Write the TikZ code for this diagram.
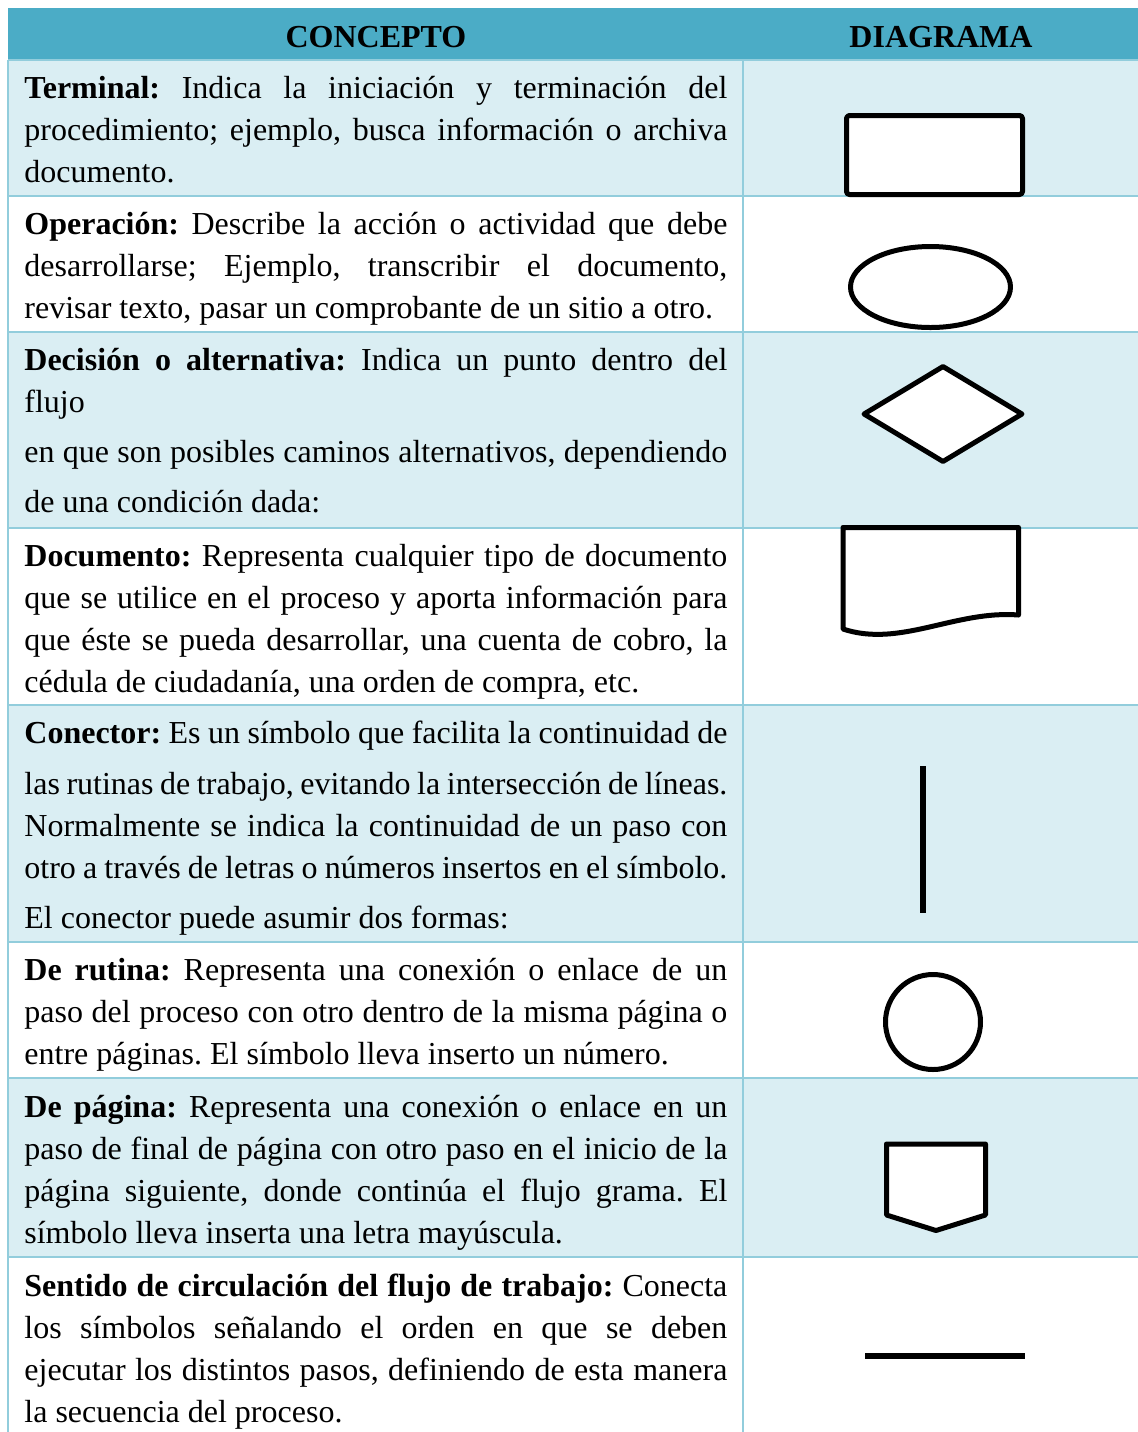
\documentclass[tikz,border=0pt]{standalone}
\usepackage{fontspec}
\setmainfont{Liberation Serif}
\usetikzlibrary{shapes.geometric}
\definecolor{headblue}{HTML}{4BACC6}
\definecolor{rowblue}{HTML}{DAEEF3}
\definecolor{gridblue}{HTML}{92CDDC}
\newlength\conceptw
\setlength\conceptw{351.5pt}
\newcommand\jline[1]{\makebox[\conceptw][s]{#1}}
\tikzset{
  concept/.style={anchor=base west, inner sep=0pt, text width=\conceptw, align=left, font=\fontsize{16}{21}\selectfont,
    execute at begin node={\frenchspacing\spaceskip=0pt\xspaceskip=0pt}},
  heading/.style={anchor=base, inner sep=0pt, font=\fontsize{16}{21}\selectfont\bfseries},
  symbol/.style={draw, line width=2.5pt, fill=white, inner sep=0pt, line join=round},
  gridline/.style={gridblue, line width=1pt}
}
\begin{document}
\begin{tikzpicture}[x=0.5pt, y=-0.5pt]
                \useasboundingbox (0,0) rectangle (1138,1432);
                \fill[headblue] (8,8) rectangle (1138,60);
                \foreach \ya/\yb/\rowc in {60/196/rowblue, 196/332/white, 332/528/rowblue, 528/705/white, 705/942/rowblue, 942/1078/white, 1078/1257/rowblue, 1257/1432/white}
                  \fill[\rowc] (8,\ya) rectangle (1138,\yb);
                \foreach \yy in {60,196,332,528,705,942,1078,1257}
                  \draw[gridline] (8,\yy) -- (1138,\yy);
                \draw[gridline] (8,60) -- (8,1432);
                \draw[gridline] (743,60) -- (743,1432);

                \node[heading] (hconcepto) at (376,47) {CONCEPTO};
                \node[heading] (hdiagrama) at (941,47) {DIAGRAMA};

                \node[concept] (terminal) at (24,98) {\jline{\textbf{Terminal:} Indica la iniciación y terminación del}\\
                  \jline{procedimiento; ejemplo, busca información o archiva}\\
                  documento.};
                \node[concept] (operacion) at (24,234) {\jline{\textbf{Operación:} Describe la acción o actividad que debe}\\
                  \jline{desarrollarse; Ejemplo, transcribir el documento,}\\
                  revisar texto, pasar un comprobante de un sitio a otro.};
                \node[concept] (decision) at (24,370) {\jline{\textbf{Decisión o alternativa:} Indica un punto dentro del}\\
                  flujo\\[4pt]
                  \jline{en que son posibles caminos alternativos, dependiendo}\\[4pt]
                  de una condición dada:};
                \node[concept] (documento) at (24,566) {\jline{\textbf{Documento:} Representa cualquier tipo de documento}\\
                  \jline{que se utilice en el proceso y aporta información para}\\
                  \jline{que éste se pueda desarrollar, una cuenta de cobro, la}\\
                  cédula de ciudadanía, una orden de compra, etc.};
                \node[concept] (conector) at (24,743) {\jline{\textbf{Conector:} Es un símbolo que facilita la continuidad de}\\[4.5pt]
                  \jline{las rutinas de trabajo, evitando la intersección de líneas.}\\
                  \jline{Normalmente se indica la continuidad de un paso con}\\
                  \jline{otro a través de letras o números insertos en el símbolo.}\\[4pt]
                  El conector puede asumir dos formas:};
                \node[concept] (rutina) at (24,980) {\jline{\textbf{De rutina:} Representa una conexión o enlace de un}\\
                  \jline{paso del proceso con otro dentro de la misma página o}\\
                  entre páginas. El símbolo lleva inserto un número.};
                \node[concept] (pagina) at (24,1117) {\jline{\textbf{De página:} Representa una conexión o enlace en un}\\
                  \jline{paso de final de página con otro paso en el inicio de la}\\
                  \jline{página siguiente, donde continúa el flujo grama. El}\\
                  símbolo lleva inserta una letra mayúscula.};
                \node[concept] (sentido) at (24,1296) {\jline{\textbf{Sentido de circulación del flujo de trabajo:} Conecta}\\
                  \jline{los símbolos señalando el orden en que se deben}\\
                  \jline{ejecutar los distintos pasos, definiendo de esta manera}\\
                  la secuencia del proceso.};

                \node[symbol, minimum width=88pt, minimum height=39.5pt, rounded corners=1.5pt] (sterminal) at (934.5,155) {};
                \node[symbol, ellipse, minimum width=80pt, minimum height=40.5pt] (soperacion) at (930.5,287) {};
                \node[symbol, diamond, minimum width=80pt, minimum height=48.5pt] (sdecision) at (943,414) {};
                \draw[symbol] (843,527.5) coordinate (sdocumento) -- (1018.5,527.5) -- (1018.5,615)
                  .. controls (955,610) and (900,648) .. (843,629) -- cycle;
                \draw[line width=3pt] (922.7,766) coordinate (sconector) -- (922.7,913);
                \node[symbol, circle, minimum size=47.5pt] (srutina) at (933,1022) {};
                \draw[symbol] (886.5,1144) coordinate (spagina) -- (985.5,1144) -- (985.5,1215) -- (936,1230.5) -- (886.5,1215) -- cycle;
                \draw[line width=3pt] (865,1356) coordinate (ssentido) -- (1025,1356);
            \end{tikzpicture}
\end{document}
